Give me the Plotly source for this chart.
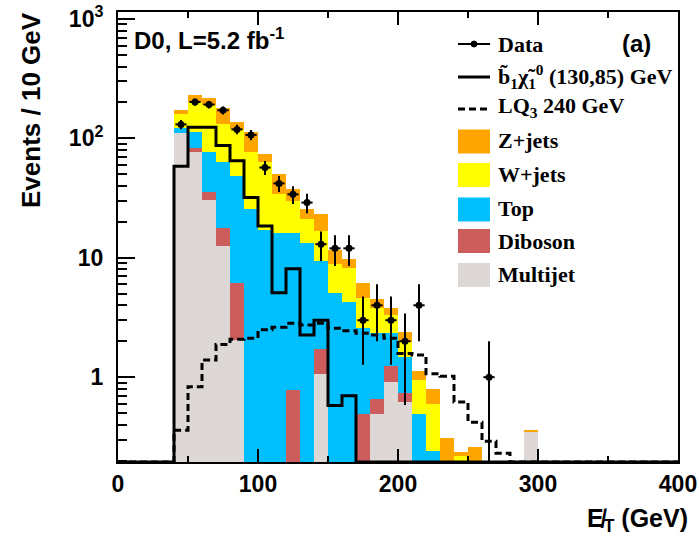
import math
import plotly.graph_objects as go

# ---------------- data ----------------
bin_low = [40, 50, 60, 70, 80, 90, 100, 110, 120, 130, 140, 150, 160,
           170, 180, 190, 200, 210, 220, 230, 240, 250, 260, 270, 280, 290]
bin_width = 10

multijet = [111, 77.6, 30.6, 12.5, 2.05, 0, 0, 0, 0, 0, 1.07, 0, 0,
            0, 0.49, 0.91, 0.62, 0, 0, 0, 0, 0, 0, 0, 0, 0.35]
diboson = [0, 5.2, 5.1, 5.4, 4.1, 0, 0, 0, 0.78, 0, 0.65, 0, 0,
           0.49, 0.17, 0.33, 0.11, 0, 0, 0, 0, 0, 0, 0, 0, 0]
top = [11, 30.2, 41.9, 45.1, 42.55, 25.5, 17, 16, 15.2, 13.4, 7.64, 5.07, 4.3,
       2.08, 1.67, 1.09, 0.75, 0.49, 0.24, 0, 0, 0, 0, 0, 0, 0]
wjets = [39, 89, 111.4, 70, 71.3, 51.1, 46, 18.1, 14, 7.6, 7.44, 3.73, 3.9,
         2.03, 1.46, 1.0, 0.5, 0.45, 0.36, 0, 0.22, 0, 0, 0, 0, 0]
zjets = [11, 28, 27, 47, 17, 37.4, 11, 16.2, 7.6, 4.5, 6.4, 2.9, 1.6,
         1.55, 0.71, 0.46, 0.43, 0.19, 0.20, 0.31, 0.015, 0.26, 0, 0, 0, 0.01]

signal_sbottom = [58.4, 124, 124, 87, 65, 32, 18.5, 5.1, 8.1, 2.26, 3.0, 0.58, 0.70,
                  0, 0, 0, 0, 0, 0, 0, 0, 0, 0, 0, 0, 0]
signal_lq = [0.36, 0.83, 1.39, 1.88, 2.08, 2.12, 2.49, 2.62, 2.83, 2.74, 2.83, 2.57, 2.45,
             2.33, 2.26, 2.12, 1.58, 1.53, 1.07, 1.02, 0.62, 0.42, 0.29, 0.23, 0, 0]

data_counts = [131, 202, 192, 172, 119, 107, 57, 42, 34, 29, 13, 12, 12,
               3, 4, 3, 2, 4, 0, 0, 0, 0, 1, 0, 0, 0]

x_range = [0, 400]
y_min, y_max = 0.1947, 1145.0

# ---------------- figure ----------------
W, H = 699, 539
L, R, T, B = 118, 21, 12, 77
PW, PH = W - L - R, H - T - B


def px(xp):
    return (xp - L) / PW


def py(yp):
    return (H - B - yp) / PH


centers = [b + bin_width / 2 for b in bin_low]
fig = go.Figure()

stack = [("Multijet", multijet, "#ddd8d5"),
         ("Diboson", diboson, "#cd5c5c"),
         ("Top", top, "#00bfff"),
         ("W+jets", wjets, "#ffff00"),
         ("Z+jets", zjets, "#ffa500")]
for name, vals, col in stack:
    fig.add_trace(go.Bar(x=centers, y=vals, width=bin_width, name=name,
                         marker=dict(color=col, line=dict(width=0)),
                         showlegend=False))


def step_line(vals):
    xs = [x_range[0]] + bin_low + [bin_low[-1] + bin_width, x_range[1]]
    ys = [y_min] + [v if v > 0 else y_min for v in vals] + [y_min, y_min]
    return xs, ys


xs, ys = step_line(signal_sbottom)
fig.add_trace(go.Scatter(x=xs, y=ys, mode="lines", line=dict(color="black", width=3, shape="hv"),
                         showlegend=False))
xs, ys = step_line(signal_lq)
fig.add_trace(go.Scatter(x=xs, y=ys, mode="lines",
                         line=dict(color="black", width=3, shape="hv", dash="7px,4px"),
                         showlegend=False))

dx = [c for c, n in zip(centers, data_counts) if n > 0]
dy = [n for n in data_counts if n > 0]
derr = [math.sqrt(n) for n in dy]
fig.add_trace(go.Scatter(x=dx, y=dy, mode="markers",
                         marker=dict(color="black", size=7, symbol="circle"),
                         error_y=dict(type="data", array=derr, color="black", thickness=2, width=0),
                         error_x=dict(type="constant", value=4, color="black", thickness=2, width=0),
                         showlegend=False))

fig.update_layout(
    width=W, height=H, barmode="stack", bargap=0,
    margin=dict(l=L, r=R, t=T, b=B, pad=0, autoexpand=False),
    paper_bgcolor="white", plot_bgcolor="white",
    font=dict(family="Liberation Sans", color="black"),
)
fig.update_xaxes(range=x_range, showgrid=False, zeroline=False, automargin=False,
                 showline=True, linecolor="black", linewidth=2, mirror="ticks",
                 ticks="inside", ticklen=13, tickwidth=1.5, tickcolor="black", dtick=100, tick0=0,
                 minor=dict(ticks="inside", ticklen=6, dtick=50, tick0=0, tickcolor="black", tickwidth=1.5),
                 tickfont=dict(family="Liberation Sans", size=23, weight="bold"),
                 ticklabelstandoff=0)
minor_vals = [m * 10 ** e for e in range(-1, 3) for m in range(2, 10)]
fig.update_yaxes(type="log", range=[math.log10(y_min), math.log10(y_max)],
                 showgrid=False, zeroline=False, automargin=False,
                 showline=True, linecolor="black", linewidth=2, mirror=True,
                 ticks="inside", ticklen=17, tickwidth=1.5, tickcolor="black",
                 tickvals=[1, 10, 100, 1000], ticktext=["1", "10", "10<sup>2</sup>", "10<sup>3</sup>"],
                 minor=dict(ticks="inside", ticklen=9, tickvals=minor_vals, tickcolor="black", tickwidth=1.5),
                 tickfont=dict(family="Liberation Sans", size=23, weight="bold"),
                 ticklabelstandoff=8)

ann = []
ann.append(dict(text="Events / 10 GeV", x=px(31), y=py(10), xref="paper", yref="paper",
                xanchor="center", yanchor="top", textangle=-90, showarrow=False,
                font=dict(family="Liberation Sans", size=26, weight="bold")))
ann.append(dict(text="E\u0338<sub>T</sub> (GeV)", x=px(690), y=py(520), xref="paper", yref="paper",
                xanchor="right", yanchor="middle", showarrow=False,
                font=dict(family="Liberation Sans", size=25, weight="bold")))
ann.append(dict(text="D0, L=5.2 fb<sup>-1</sup>", x=px(132), y=py(39), xref="paper", yref="paper",
                xanchor="left", yanchor="middle", showarrow=False,
                font=dict(family="Liberation Sans", size=24, weight="bold")))
ann.append(dict(text="(a)", x=px(636), y=py(43), xref="paper", yref="paper",
                xanchor="center", yanchor="middle", showarrow=False,
                font=dict(family="Liberation Sans", size=24, weight="bold")))

leg_font = dict(family="Liberation Serif", size=22, weight="bold")
leg_x0, leg_x1, leg_tx = 458, 490, 496
labels = ["Data", "b\u0303<sub>1</sub>\u03c7\u0303<sub>1</sub><sup>0</sup> (130,85) GeV",
          "LQ<sub>3</sub> 240 GeV", "Z+jets", "W+jets", "Top", "Diboson", "Multijet"]
label_y = [44, 76, 107, 140, 174, 208, 241, 274]
for lab, yy in zip(labels, label_y):
    ann.append(dict(text=lab, x=px(leg_tx), y=py(yy), xref="paper", yref="paper",
                    xanchor="left", yanchor="middle", showarrow=False, font=leg_font))

shapes = []
shapes.append(dict(type="line", xref="paper", yref="paper", x0=px(leg_x0), x1=px(leg_x1),
                   y0=py(44), y1=py(44), line=dict(color="black", width=2)))
shapes.append(dict(type="circle", xref="paper", yref="paper", x0=px(471), x1=px(477),
                   y0=py(41), y1=py(47), fillcolor="black", line=dict(color="black", width=1)))
shapes.append(dict(type="line", xref="paper", yref="paper", x0=px(leg_x0), x1=px(leg_x1),
                   y0=py(77), y1=py(77), line=dict(color="black", width=3)))
shapes.append(dict(type="line", xref="paper", yref="paper", x0=px(leg_x0), x1=px(leg_x1),
                   y0=py(109), y1=py(109), line=dict(color="black", width=3, dash="7px,4px")))
box_y = [141.5, 175, 209.5, 241, 275]
for (name, vals, col), yc in zip(stack[::-1], box_y):
    shapes.append(dict(type="rect", xref="paper", yref="paper", x0=px(leg_x0), x1=px(leg_x1),
                       y0=py(yc + 12), y1=py(yc - 12), fillcolor=col, line=dict(width=0)))

fig.update_layout(annotations=ann, shapes=shapes)
fig.write_html("out.html")
